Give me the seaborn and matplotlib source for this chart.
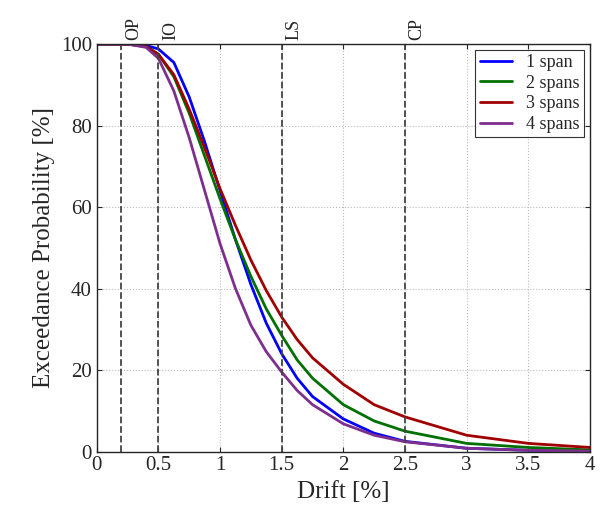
import numpy as np
import pandas as pd
import seaborn as sns
import matplotlib.pyplot as plt

drift = [0, 0.25, 0.4, 0.5, 0.625, 0.75, 0.875, 1.0, 1.125, 1.25, 1.375, 1.5, 1.625, 1.75, 2.0, 2.25, 2.5, 3.0, 3.5, 4.0]
span1 = [100, 100, 99.7, 98.8, 95.5, 87, 76, 64, 52, 41, 31.5, 24, 18, 13.5, 8, 4.5, 2.5, 0.8, 0.3, 0.1]
span2 = [100, 100, 99.4, 97.5, 92, 83, 72.5, 62, 52, 43, 35, 28.5, 22.5, 18, 11.5, 7.5, 5, 2, 1, 0.4]
span3 = [100, 100, 99.4, 97.5, 92.5, 84, 74.5, 64.5, 55.5, 47, 39.5, 33, 27.5, 23, 16.5, 11.5, 8.5, 4, 2, 1]
span4 = [100, 100, 99.2, 96.5, 88.5, 77, 64, 51, 40, 31, 24.5, 19.5, 15, 11.5, 6.8, 4, 2.4, 0.8, 0.3, 0.1]
labels = ["1 span", "2 spans", "3 spans", "4 spans"]
colors = ["#0000ff", "#007000", "#a00000", "#7e2f8e"]
limit_x = [0.2, 0.5, 1.5, 2.5]
limit_names = ["OP", "IO", "LS", "CP"]

df = pd.DataFrame({"drift": drift * 4,
                   "prob": span1 + span2 + span3 + span4,
                   "case": np.repeat(labels, len(drift))})

sns.set_style("ticks")
plt.rcParams["font.family"] = ["Liberation Serif", "DejaVu Serif"]

fig, ax = plt.subplots(figsize=(6.05, 5.19), dpi=100)
sns.lineplot(data=df, x="drift", y="prob", hue="case", palette=colors, lw=2, ax=ax)
for xv, name in zip(limit_x, limit_names):
    ax.axvline(xv, color="#444444", ls="--", lw=1.3)
    ax.text(xv + 0.03, 101, name, rotation=90, ha="left", va="bottom", fontsize=13)
ax.set_xlim(0, 4)
ax.set_ylim(0, 100)
ax.set_xticks(np.arange(0, 4.01, 0.5))
ax.set_xticklabels(["0", "0.5", "1", "1.5", "2", "2.5", "3", "3.5", "4"])
ax.grid(True, ls=":", color="#bbbbbb")
ax.tick_params(labelsize=15, direction="in", top=True, right=True)
ax.set_xlabel("Drift [%]", fontsize=18)
ax.set_ylabel("Exceedance Probability [%]", fontsize=18)
leg = ax.legend(loc="upper right", fontsize=13, fancybox=False, edgecolor="black",
                handlelength=1.8, borderaxespad=0.3, borderpad=0.25, labelspacing=0.2)
leg.get_frame().set_linewidth(0.8)
for s in ax.spines.values():
    s.set_linewidth(1.0)
fig.subplots_adjust(left=0.16, right=0.975, top=0.915, bottom=0.13)
fig.savefig("out.png", dpi=100)
